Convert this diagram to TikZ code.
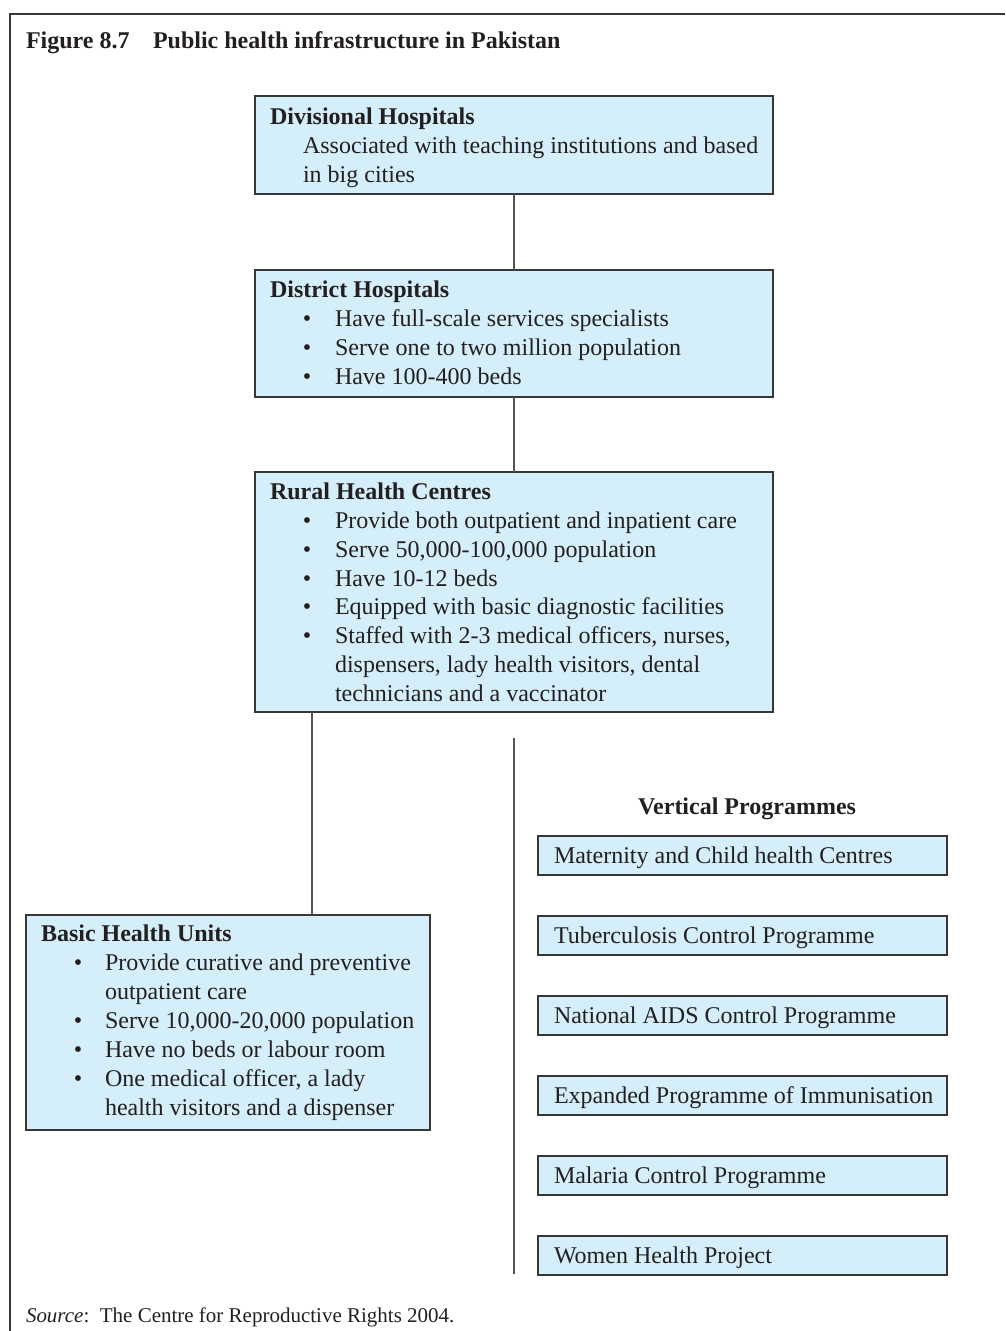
\documentclass[tikz,border=0pt]{standalone}
\usepackage{fontspec}
\setmainfont{Liberation Serif}
\usetikzlibrary{calc}
\definecolor{boxfill}{RGB}{212,238,250}
\definecolor{ink}{RGB}{35,31,32}
\definecolor{edge}{RGB}{55,55,55}
\definecolor{wire}{RGB}{85,85,85}

\begin{document}
\begin{tikzpicture}[x=1pt,y=-1pt,
  every node/.style={inner sep=0pt, outer sep=0pt, text=ink,
    font=\fontsize{24}{29}\selectfont},
  tierbox/.style={draw=edge, line width=1.4pt, fill=boxfill, anchor=north west},
  txt/.style={anchor=base west},
  hd/.style={anchor=base west, font=\fontsize{24}{29}\selectfont\bfseries},
  dotmark/.style={anchor=base},
  link/.style={draw=wire, line width=1.3pt},
  frame/.style={draw=edge, line width=2pt}]

\useasboundingbox (0,0) rectangle (1005,1331);

% outer frame (top and left edges)
\draw[frame] (1005,14) -- (10,14) -- (10,1331);

% caption
\node[hd] (fignum) at (26,48) {Figure 8.7};
\node[hd] (figtitle) at (153,48) {Public health infrastructure in Pakistan};

% tier boxes
\node[tierbox, minimum width=518pt, minimum height=98pt]  (div)   at (255,96)  {};
\node[tierbox, minimum width=518pt, minimum height=127pt] (dist)  at (255,270) {};
\node[tierbox, minimum width=518pt, minimum height=240pt] (rural) at (255,472) {};
\node[tierbox, minimum width=404pt, minimum height=215pt] (bhu)   at (26,915)  {};

% connectors between tiers
\draw[link] (div.south) -- (dist.north);
\draw[link] (dist.south) -- (rural.north);
\draw[link] (rural.south west) ++(57,0) coordinate (rbase) -- (rbase |- bhu.north);

% free-standing divider beside the vertical programmes
\coordinate (vtop) at (514,738);
\coordinate (vbot) at (514,1274);
\draw[link] (vtop) -- (vbot);

% Divisional Hospitals
\node[hd]  (divh) at (270,124) {Divisional Hospitals};
\node[txt] (div1) at (303,153) {Associated with teaching institutions and based};
\node[txt] (div2) at (303,182) {in big cities};

% District Hospitals
\node[hd] (disth) at (270,297) {District Hospitals};
\node[dotmark] (db1) at (307,326) {\textbullet};
\node[txt]     (dt1) at (335,326) {Have full-scale services specialists};
\node[dotmark] (db2) at (307,355) {\textbullet};
\node[txt]     (dt2) at (335,355) {Serve one to two million population};
\node[dotmark] (db3) at (307,384) {\textbullet};
\node[txt]     (dt3) at (335,384) {Have 100-400 beds};

% Rural Health Centres
\node[hd] (ruralh) at (270,499) {Rural Health Centres};
\node[dotmark] (rb1) at (307,528) {\textbullet};
\node[txt]     (rt1) at (335,528) {Provide both outpatient and inpatient care};
\node[dotmark] (rb2) at (307,557) {\textbullet};
\node[txt]     (rt2) at (335,557) {Serve 50,000-100,000 population};
\node[dotmark] (rb3) at (307,586) {\textbullet};
\node[txt]     (rt3) at (335,586) {Have 10-12 beds};
\node[dotmark] (rb4) at (307,614) {\textbullet};
\node[txt]     (rt4) at (335,614) {Equipped with basic diagnostic facilities};
\node[dotmark] (rb5) at (307,643) {\textbullet};
\node[txt]     (rt5) at (335,643) {Staffed with 2-3 medical officers, nurses,};
\node[txt]     (rt6) at (335,672) {dispensers, lady health visitors, dental};
\node[txt]     (rt7) at (335,701) {technicians and a vaccinator};

% Basic Health Units
\node[hd] (bhuh) at (41,941) {Basic Health Units};
\node[dotmark] (bb1) at (78,970)  {\textbullet};
\node[txt]     (bt1) at (105,970) {Provide curative and preventive};
\node[txt]     (bt2) at (105,999) {outpatient care};
\node[dotmark] (bb3) at (78,1028)  {\textbullet};
\node[txt]     (bt3) at (105,1028) {Serve 10,000-20,000 population};
\node[dotmark] (bb4) at (78,1057)  {\textbullet};
\node[txt]     (bt4) at (105,1057) {Have no beds or labour room};
\node[dotmark] (bb5) at (78,1086)  {\textbullet};
\node[txt]     (bt5) at (105,1086) {One medical officer, a lady};
\node[txt]     (bt6) at (105,1115) {health visitors and a dispenser};

% Vertical programmes
\node[anchor=base, font=\fontsize{24}{29}\selectfont\bfseries] (vph) at (747,814) {Vertical Programmes};
\foreach \i/\y/\label in {
    1/836/Maternity and Child health Centres,
    2/916/Tuberculosis Control Programme,
    3/996/National AIDS Control Programme,
    4/1076/Expanded Programme of Immunisation,
    5/1156/Malaria Control Programme,
    6/1236/Women Health Project} {
  \node[tierbox, minimum width=409pt, minimum height=39pt] (vp\i) at (538,\y) {};
  \node[txt] (vpt\i) at (554,\y+27) {\label};
}

% source line
\node[txt, font=\fontsize{21}{25}\selectfont] (src) at (26,1322) {\textit{Source}:\ \ The Centre for Reproductive Rights 2004.};

\end{tikzpicture}
\end{document}
